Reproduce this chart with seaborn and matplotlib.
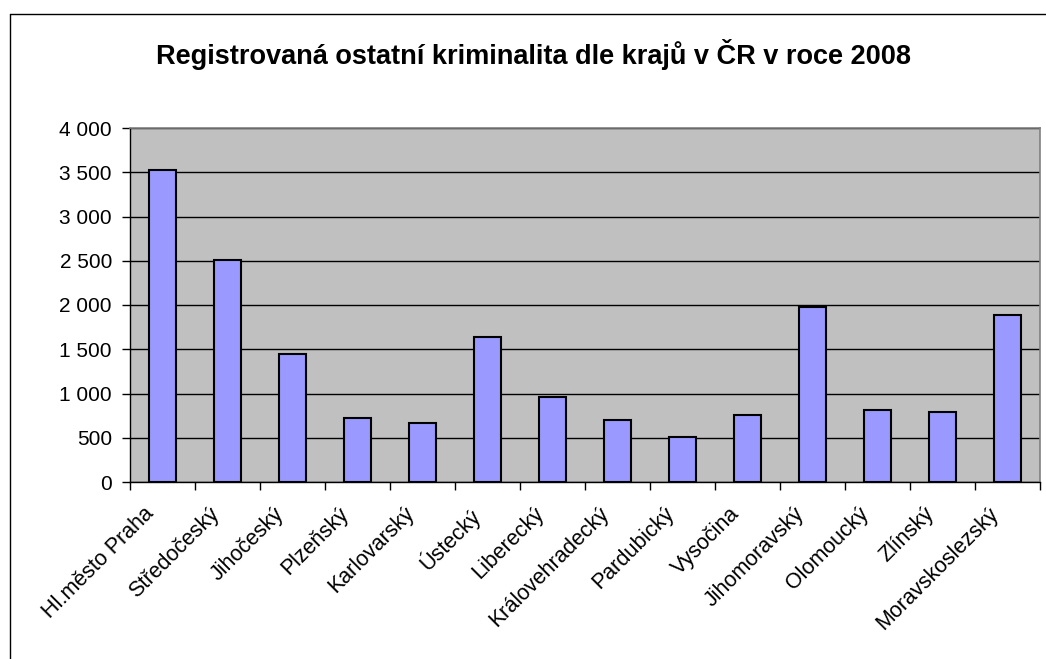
import matplotlib
matplotlib.use("Agg")
import matplotlib.pyplot as plt
import seaborn as sns
import pandas as pd
from matplotlib.lines import Line2D
from matplotlib.ticker import FuncFormatter, MultipleLocator
from matplotlib.transforms import ScaledTranslation

regions = ["Hl.město Praha", "Středočeský", "Jihočeský", "Plzeňský", "Karlovarský",
           "Ústecký", "Liberecký", "Královehradecký", "Pardubický", "Vysočina",
           "Jihomoravský", "Olomoucký", "Zlínský", "Moravskoslezský"]
values = [3525, 2512, 1450, 725, 663, 1636, 958, 705, 504, 754, 1973, 818, 795, 1890]
title = "Registrovaná ostatní kriminalita dle krajů v ČR v roce 2008"

sns.set_theme(style="white")
plt.rcParams['font.family'] = ['Liberation Sans', 'DejaVu Sans']
plt.rcParams['text.color'] = 'black'
plt.rcParams['xtick.color'] = 'black'
plt.rcParams['ytick.color'] = 'black'

df = pd.DataFrame({"kraj": regions, "pocet": values})

fig = plt.figure(figsize=(10.46, 6.59), dpi=100)
fig.patch.set_facecolor("white")
ax = fig.add_axes([130/1046, 1-482/659, 910/1046, 354/659])
ax.set_facecolor("#C0C0C0")

sns.barplot(data=df, x="kraj", y="pocet", color="#9999FF", saturation=1,
            edgecolor="black", linewidth=1.5, width=0.43, ax=ax, zorder=3)

ax.set_ylim(0, 4000)
ax.set_xlim(-0.5, len(regions) - 0.5)
ax.yaxis.set_major_locator(MultipleLocator(500))
ax.yaxis.set_major_formatter(FuncFormatter(lambda v, p: f"{int(v):,}".replace(",", " ")))
ax.grid(axis="y", color="black", linewidth=1, zorder=1)
ax.set_axisbelow(True)
ax.set_xlabel("")
ax.set_ylabel("")

for side in ["top", "right"]:
    ax.spines[side].set_color("#808080")
    ax.spines[side].set_linewidth(1.2)
for side in ["left", "bottom"]:
    ax.spines[side].set_color("black")
    ax.spines[side].set_linewidth(1)

ax.set_xticks([i + 0.5 for i in range(-1, len(regions))], minor=True)
ax.tick_params(axis="x", which="minor", direction="out", length=6, width=1, color="black", bottom=True)
ax.tick_params(axis="x", which="major", length=0, pad=8)
ax.tick_params(axis="y", direction="out", length=6, width=1, color="black", left=True,
               labelsize=15, pad=7, labelcolor="black")
ax.set_xticks(range(len(regions)))
ax.set_xticklabels(regions, rotation=45, ha="right", rotation_mode="anchor", fontsize=15.5, color="black")
shift = ScaledTranslation(-19/100, -10/100, fig.dpi_scale_trans)
for lbl in ax.get_xticklabels():
    lbl.set_transform(lbl.get_transform() + shift)

fig.text(534/1046, 1-55/659, title, ha="center", va="center", fontsize=19.5,
         fontweight="bold", color="black")

fig.add_artist(Line2D([10/1046, 10/1046], [0, 1-14/659], transform=fig.transFigure, color="black", linewidth=1))
fig.add_artist(Line2D([10/1046, 1], [1-14/659, 1-14/659], transform=fig.transFigure, color="black", linewidth=1))

fig.savefig("out.png", dpi=100)
